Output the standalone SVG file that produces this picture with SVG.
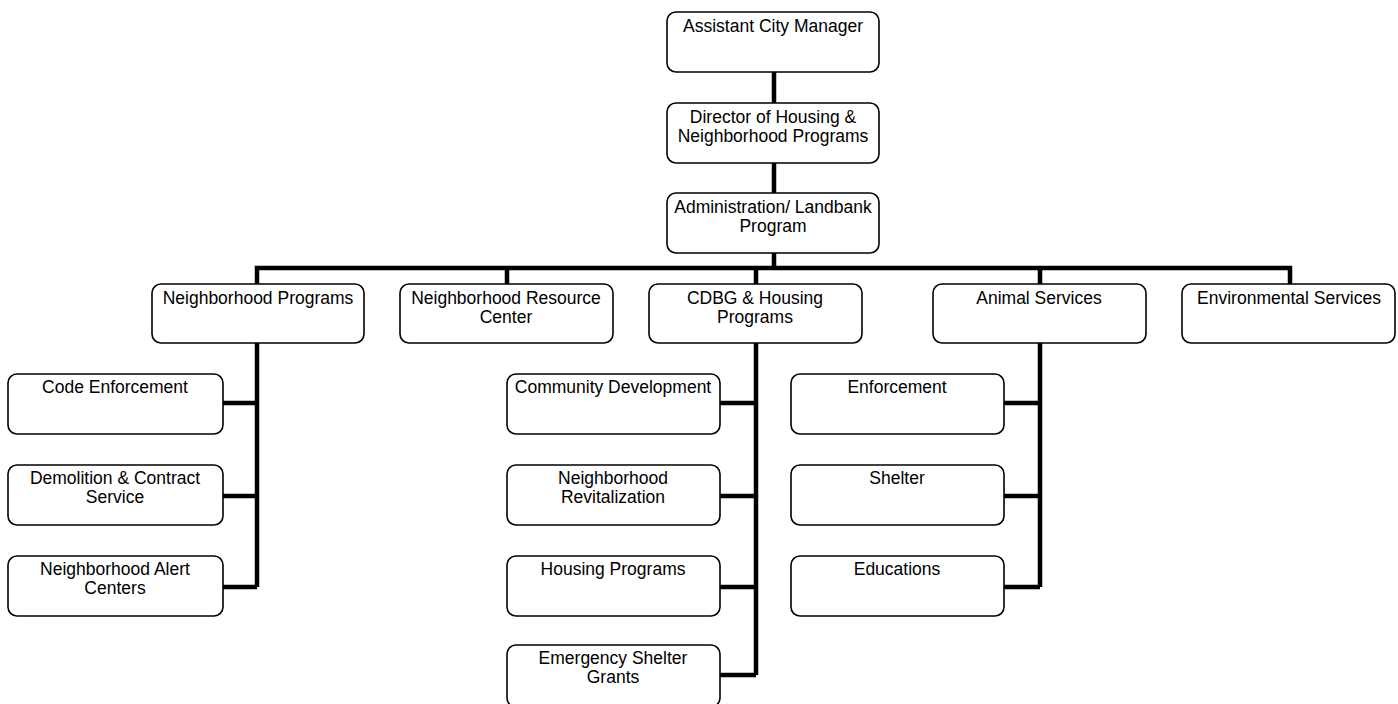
<svg xmlns="http://www.w3.org/2000/svg" width="1398" height="704" viewBox="0 0 1398 704">
<style>
.box{fill:#fff;stroke:#000;stroke-width:1.6}
.t{font-family:"Liberation Sans",Arial,sans-serif;font-size:17.5px;fill:#000;text-anchor:middle}
.c{fill:none;stroke:#000;stroke-width:4.5;stroke-linejoin:miter;stroke-linecap:butt}
</style>
<rect width="1398" height="704" fill="#fff"/>
<g id="connectors">
<path class="c" d="M774 72V103M774 163V193M774 253V268"/>
<path class="c" d="M257 286V268H1290V286M507 268V286M756 268V286M1040 268V286"/>
<path class="c" d="M257 343V587M223 403H257M223 496H257M223 587H257"/>
<path class="c" d="M756 343V675M720 403H756M720 496H756M720 587H756M720 675H756"/>
<path class="c" d="M1040 343V587M1004 403H1040M1004 496H1040M1004 587H1040"/>
</g>
<g id="acm"><rect class="box" x="667" y="12" width="212" height="60" rx="9"/><text class="t" x="773" y="32">Assistant City Manager</text></g>
<g id="director"><rect class="box" x="667" y="103" width="212" height="60" rx="9"/><text class="t" x="773" y="123">Director of Housing &amp;</text><text class="t" x="773" y="142">Neighborhood Programs</text></g>
<g id="admin"><rect class="box" x="667" y="193" width="212" height="60" rx="9"/><text class="t" x="773" y="213">Administration/ Landbank</text><text class="t" x="773" y="232">Program</text></g>
<g id="np"><rect class="box" x="152" y="284" width="212" height="59" rx="9"/><text class="t" x="258" y="304">Neighborhood Programs</text></g>
<g id="nrc"><rect class="box" x="400" y="284" width="213" height="59" rx="9"/><text class="t" x="506" y="304">Neighborhood Resource</text><text class="t" x="506" y="323">Center</text></g>
<g id="cdbg"><rect class="box" x="649" y="284" width="213" height="59" rx="9"/><text class="t" x="755" y="304">CDBG &amp; Housing</text><text class="t" x="755" y="323">Programs</text></g>
<g id="animal"><rect class="box" x="933" y="284" width="213" height="59" rx="9"/><text class="t" x="1039" y="304">Animal Services</text></g>
<g id="env"><rect class="box" x="1182" y="284" width="213" height="59" rx="9"/><text class="t" x="1289" y="304">Environmental Services</text></g>
<g id="code"><rect class="box" x="8" y="374" width="215" height="60" rx="9"/><text class="t" x="115" y="393">Code Enforcement</text></g>
<g id="demo"><rect class="box" x="8" y="465" width="215" height="60" rx="9"/><text class="t" x="115" y="484">Demolition &amp; Contract</text><text class="t" x="115" y="503">Service</text></g>
<g id="alert"><rect class="box" x="8" y="556" width="215" height="60" rx="9"/><text class="t" x="115" y="575">Neighborhood Alert</text><text class="t" x="115" y="594">Centers</text></g>
<g id="commdev"><rect class="box" x="507" y="374" width="213" height="60" rx="9"/><text class="t" x="613" y="393">Community Development</text></g>
<g id="revit"><rect class="box" x="507" y="465" width="213" height="60" rx="9"/><text class="t" x="613" y="484">Neighborhood</text><text class="t" x="613" y="503">Revitalization</text></g>
<g id="housing"><rect class="box" x="507" y="556" width="213" height="60" rx="9"/><text class="t" x="613" y="575">Housing Programs</text></g>
<g id="esg"><rect class="box" x="507" y="645" width="213" height="62" rx="9"/><text class="t" x="613" y="664">Emergency Shelter</text><text class="t" x="613" y="683">Grants</text></g>
<g id="enf"><rect class="box" x="791" y="374" width="213" height="60" rx="9"/><text class="t" x="897" y="393">Enforcement</text></g>
<g id="shelter"><rect class="box" x="791" y="465" width="213" height="60" rx="9"/><text class="t" x="897" y="484">Shelter</text></g>
<g id="edu"><rect class="box" x="791" y="556" width="213" height="60" rx="9"/><text class="t" x="897" y="575">Educations</text></g>
</svg>
